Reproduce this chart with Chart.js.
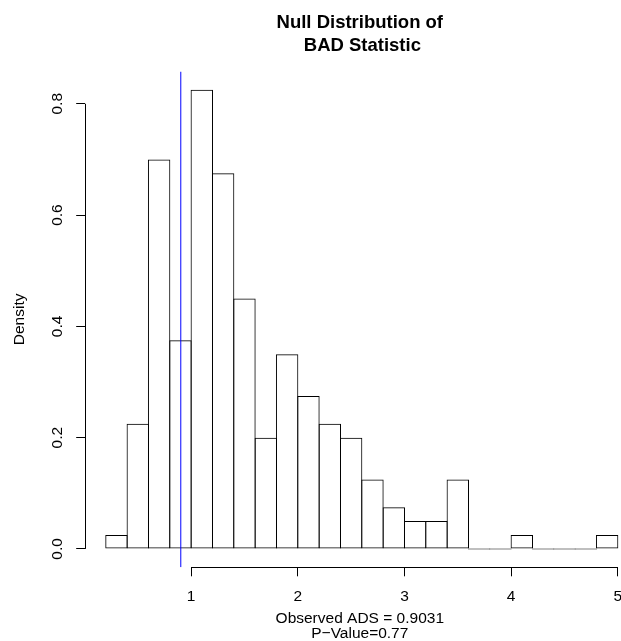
<!DOCTYPE html>
<html>
<head>
<meta charset="utf-8">
<script src="https://cdn.jsdelivr.net/npm/chart.js@4.4.1/dist/chart.umd.min.js"></script>
<style>
  html, body { margin: 0; padding: 0; background: #fff; overflow: hidden; }
</style>
</head>
<body>
<canvas id="hist" width="621" height="641"></canvas>
<script>
// histogram breaks and density of each bin
const breaks = [0.2, 0.4, 0.6, 0.8, 1.0, 1.2, 1.4, 1.6, 1.8, 2.0, 2.2, 2.4, 2.6,
                2.8, 3.0, 3.2, 3.4, 3.6, 3.8, 4.0, 4.2, 4.4, 4.6, 4.8, 5.0];
const density = [0.025, 0.225, 0.700, 0.375, 0.825, 0.675, 0.450, 0.200, 0.350,
                 0.275, 0.225, 0.200, 0.125, 0.075, 0.050, 0.050, 0.125, 0, 0,
                 0.025, 0, 0, 0, 0.025];
const observed = 0.9031;
const pValue = 0.77;

const xTicks = [1, 2, 3, 4, 5];
const yTicks = [0, 0.2, 0.4, 0.6, 0.8];
const mainTitle = ['Null Distribution of', ' BAD Statistic'];
const xLabel = ['Observed ADS = ' + observed, 'P\u2212Value=' + pValue];
const yLabel = 'Density';

const xMin = 0.007, xMax = 5.03;
const yMin = -0.033, yMax = 0.858;

const FONT = '"Liberation Sans", Arial, Helvetica, sans-serif';
const AXIS_PX = 15.5;

const bins = density.map((d, i) => ({ x: (breaks[i] + breaks[i + 1]) / 2, y: d }));

// axis lines only span the tick range, plus title and x label
const rDecor = {
  id: 'rDecor',
  afterDraw(chart) {
    const { ctx, chartArea, scales: { x, y } } = chart;
    ctx.save();
    ctx.strokeStyle = '#000';
    ctx.lineWidth = 1;
    ctx.beginPath();
    const by = Math.round(chartArea.bottom) + 0.5;
    ctx.moveTo(x.getPixelForValue(xTicks[0]), by);
    ctx.lineTo(x.getPixelForValue(xTicks[xTicks.length - 1]), by);
    const lx = Math.round(chartArea.left) + 0.5;
    ctx.moveTo(lx, y.getPixelForValue(yTicks[0]));
    ctx.lineTo(lx, y.getPixelForValue(yTicks[yTicks.length - 1]));
    ctx.stroke();

    // text is centred on the plot region, a bit left of the data midpoint
    const cx = x.getPixelForValue((breaks[0] + breaks[breaks.length - 1]) / 2) - 2;
    ctx.fillStyle = '#000';
    ctx.textAlign = 'center';
    ctx.textBaseline = 'alphabetic';
    ctx.font = 'bold 18.5px ' + FONT;
    ctx.fillText(mainTitle[0], cx, 28);
    ctx.fillText(mainTitle[1], cx, 50.5);
    ctx.font = AXIS_PX + 'px ' + FONT;
    ctx.fillText(xLabel[0], cx, 622.5);
    ctx.fillText(xLabel[1], cx, 637.5);
    ctx.restore();
  }
};

new Chart(document.getElementById('hist'), {
  type: 'bar',
  data: {
    datasets: [
      {
        type: 'line',
        data: [{ x: observed, y: yMin }, { x: observed, y: yMax }],
        borderColor: '#0000ff',
        borderWidth: 1,
        pointRadius: 0,
        order: 1
      },
      {
        data: bins,
        backgroundColor: 'rgba(0,0,0,0)',
        borderColor: '#000',
        borderWidth: 1,
        borderSkipped: false,
        inflateAmount: 0,
        minBarLength: 1,
        barPercentage: 1.05,
        categoryPercentage: 1,
        order: 2
      }
    ]
  },
  plugins: [rDecor],
  options: {
    responsive: false,
    animation: false,
    layout: { padding: { top: 71.5, left: 0, right: 0, bottom: 0 } },
    plugins: {
      legend: { display: false },
      tooltip: { enabled: false },
      title: { display: false }
    },
    scales: {
      x: {
        type: 'linear',
        min: xMin,
        max: xMax,
        offset: false,
        afterBuildTicks: (s) => { s.ticks = xTicks.map(v => ({ value: v })); },
        afterFit: (s) => { s.height = 73.7; s.paddingLeft = 0; s.paddingRight = 0; },
        grid: { offset: false, drawOnChartArea: false, drawTicks: true, tickLength: 9, color: '#000', lineWidth: 1 },
        border: { display: false },
        ticks: {
          autoSkip: false,
          maxRotation: 0,
          padding: 10.7,
          color: '#000',
          font: { family: FONT, size: AXIS_PX },
          callback: (v) => String(v)
        }
      },
      y: {
        type: 'linear',
        min: yMin,
        max: yMax,
        afterBuildTicks: (s) => { s.ticks = yTicks.map(v => ({ value: v })); },
        afterFit: (s) => { s.width = 85.2; s.paddingTop = 0; s.paddingBottom = 0; },
        grid: { drawOnChartArea: false, drawTicks: true, tickLength: 9, color: '#000', lineWidth: 1 },
        border: { display: false },
        ticks: {
          autoSkip: false,
          minRotation: 90,
          maxRotation: 90,
          crossAlign: 'center',
          padding: 8,
          color: '#000',
          font: { family: FONT, size: AXIS_PX },
          callback: (v) => v.toFixed(1)
        },
        title: {
          display: true,
          text: yLabel,
          color: '#000',
          font: { family: FONT, size: AXIS_PX },
          padding: { top: 10.5, bottom: 0 }
        }
      }
    }
  }
});
</script>
</body>
</html>
